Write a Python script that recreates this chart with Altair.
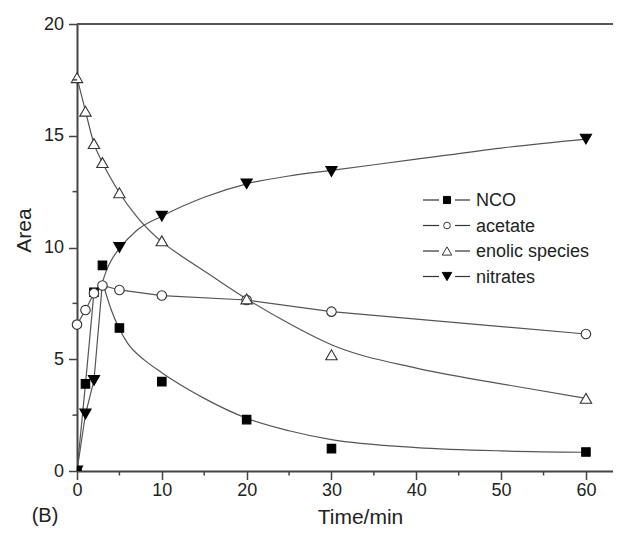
import altair as alt
import pandas as pd

# ---------------- data ----------------
series = ["NCO", "acetate", "enolic species", "nitrates"]
legend_labels = ["NCO", "acetate", "\u00a0enolic species", "nitrates"]
shapes = ["square", "circle", "triangle-up", "triangle-down"]
fills = ["#000000", "#ffffff", "#ffffff", "#000000"]
sizes = [72, 90, 130, 125]
legend_sizes = [50, 45, 90, 90]

# measured points
t_nco = [0, 1, 2, 3, 5, 10, 20, 30, 60]
v_nco = [0, 3.9, 8.0, 9.2, 6.4, 4.0, 2.3, 1.0, 0.85]
t_acetate = [0, 1, 2, 3, 5, 10, 20, 30, 60]
v_acetate = [6.55, 7.2, 7.95, 8.3, 8.1, 7.85, 7.65, 7.13, 6.13]
t_enolic = [0, 1, 2, 3, 5, 10, 20, 30, 60]
v_enolic = [17.6, 16.1, 14.65, 13.8, 12.45, 10.3, 7.7, 5.2, 3.25]
t_nitrates = [0, 1, 2, 5, 10, 20, 30, 60]
v_nitrates = [0, 2.55, 4.05, 10.0, 11.4, 12.85, 13.4, 14.85]

# straight connecting segments (initial rise)
t_nco_rise = [0, 1, 2, 3]
v_nco_rise = [0, 3.9, 8.0, 8.45]
t_nitr_rise = [0, 1, 2, 3]
v_nitr_rise = [0, 2.55, 4.05, 8.45]

# fitted curves
t_nco_fit = [3, 4, 5, 6, 8, 10, 12, 15, 20, 25, 30, 40, 50, 60]
v_nco_fit = [8.45, 7.25, 6.35, 5.7, 4.95, 4.4, 3.9, 3.25, 2.36, 1.8, 1.4, 1.05, 0.9, 0.84]
t_nitr_fit = [3, 3.5, 4, 5, 7, 10, 15, 20, 25, 30, 40, 50, 60]
v_nitr_fit = [8.45, 9.0, 9.4, 9.95, 10.75, 11.4, 12.25, 12.85, 13.2, 13.45, 13.95, 14.45, 14.85]
t_enol_fit = [0, 1, 2, 3, 5, 7, 10, 12, 15, 20, 25, 30, 40, 50, 60]
v_enol_fit = [17.6, 16.1, 14.65, 13.8, 12.45, 11.4, 10.25, 9.7, 8.95, 7.7, 6.6, 5.65, 4.6, 3.9, 3.25]

x_major = [0, 10, 20, 30, 40, 50, 60]
x_minor = [5, 15, 25, 35, 45, 55]
y_major = [0, 5, 10, 15, 20]
y_minor = [2.5, 7.5, 12.5, 17.5]

# ---------------- layout ----------------
W, H = 536, 447
X_MAX = 63.19
FONT = "Liberation Sans"
AX = "#444444"
LINE = "#555555"

pts = pd.concat([
    pd.DataFrame({"series": "NCO", "t": t_nco, "v": v_nco}),
    pd.DataFrame({"series": "acetate", "t": t_acetate, "v": v_acetate}),
    pd.DataFrame({"series": "enolic species", "t": t_enolic, "v": v_enolic}),
    pd.DataFrame({"series": "nitrates", "t": t_nitrates, "v": v_nitrates}),
], ignore_index=True)

lin = pd.concat([
    pd.DataFrame({"series": "NCO", "t": t_nco_rise, "v": v_nco_rise}),
    pd.DataFrame({"series": "nitrates", "t": t_nitr_rise, "v": v_nitr_rise}),
    pd.DataFrame({"series": "acetate", "t": t_acetate, "v": v_acetate}),
], ignore_index=True)

fit = pd.concat([
    pd.DataFrame({"series": "NCO", "t": t_nco_fit, "v": v_nco_fit}),
    pd.DataFrame({"series": "nitrates", "t": t_nitr_fit, "v": v_nitr_fit}),
    pd.DataFrame({"series": "enolic species", "t": t_enol_fit, "v": v_enol_fit}),
], ignore_index=True)

x_scale = alt.Scale(domain=[0, X_MAX], nice=False, zero=False)
y_scale = alt.Scale(domain=[0, 20], nice=False, zero=False)

x_enc = alt.X("t:Q", scale=x_scale, axis=alt.Axis(
    values=x_major, format="d", title="Time/min", grid=False,
    tickSize=8.5, tickWidth=1.5, tickColor=AX, domainColor=AX, domainWidth=2,
    labelFontSize=18, labelFont=FONT, labelColor="#222", labelPadding=2,
    labelFlush=False, labelOverlap=False,
    titleFontSize=21, titleFont=FONT, titleFontWeight="normal", titleColor="#222",
    titleX=283, titleY=52, titleBaseline="alphabetic", titleAlign="center"))
y_enc = alt.Y("v:Q", scale=y_scale, axis=alt.Axis(
    values=y_major, format="d", title="Area", grid=False,
    tickSize=8.5, tickWidth=1.5, tickColor=AX, domainColor=AX, domainWidth=2,
    labelFontSize=18, labelFont=FONT, labelColor="#222", labelPadding=5,
    labelOverlap=False, labelFlush=False,
    titleFontSize=21, titleFont=FONT, titleFontWeight="normal", titleColor="#222",
    titleAngle=270, titleX=-53, titleY=206, titleBaseline="middle", titleAlign="center"))

layers = []

# connecting lines
layers.append(alt.Chart(lin).mark_line(interpolate="linear", color=LINE, strokeWidth=1.2)
              .encode(x=x_enc, y=y_enc, detail="series:N", order="t:Q"))
layers.append(alt.Chart(fit).mark_line(interpolate="monotone", color=LINE, strokeWidth=1.2)
              .encode(x=x_enc, y=y_enc, detail="series:N", order="t:Q"))

# markers
for s, shp, f, sz in zip(series, shapes, fills, sizes):
    d = pts[pts["series"] == s]
    is_origin = (d["t"] == 0) & (d["v"] == 0)
    origin = d[is_origin]
    rest = d[~is_origin]
    stroke = "#000000" if f == "#000000" else "#333333"
    layers.append(alt.Chart(rest).mark_point(shape=shp, filled=True, fill=f, stroke=stroke,
                                             strokeWidth=1.1, size=sz, opacity=1)
                  .encode(x=x_enc, y=y_enc))
    if len(origin):
        layers.append(alt.Chart(origin).mark_point(shape=shp, filled=True, fill=f, stroke=stroke,
                                                   strokeWidth=1.1, size=sz, opacity=1, clip=True)
                      .encode(x=x_enc, y=y_enc))

# minor ticks
layers.append(alt.Chart(pd.DataFrame({"t": x_minor})).mark_rule(color=AX, strokeWidth=1.5)
              .encode(x=x_enc, y=alt.value(H), y2=alt.value(H + 4.5)))
layers.append(alt.Chart(pd.DataFrame({"v": y_minor})).mark_rule(color=AX, strokeWidth=1.5)
              .encode(y=y_enc, x=alt.value(-4.5), x2=alt.value(0)))

# top frame line
layers.append(alt.Chart(pd.DataFrame({"a": [0]})).mark_rule(color="#555555", strokeWidth=2)
              .encode(x=alt.value(0), x2=alt.value(W), y=alt.value(0)))

# legend
for i, (lab, shp, f, lsz) in enumerate(zip(legend_labels, shapes, fills, legend_sizes)):
    yy = 176 + 25.5 * i
    one = pd.DataFrame({"label": [lab]})
    stroke = "#000000" if f == "#000000" else "#333333"
    layers.append(alt.Chart(one).mark_rule(color="#333333", strokeWidth=1.2)
                  .encode(x=alt.value(346), x2=alt.value(362), y=alt.value(yy)))
    layers.append(alt.Chart(one).mark_rule(color="#333333", strokeWidth=1.2)
                  .encode(x=alt.value(378), x2=alt.value(393), y=alt.value(yy)))
    layers.append(alt.Chart(one).mark_point(shape=shp, filled=True, fill=f, stroke=stroke,
                                            strokeWidth=1, size=lsz, opacity=1)
                  .encode(x=alt.value(370), y=alt.value(yy)))
    layers.append(alt.Chart(one).mark_text(align="left", baseline="middle", font=FONT,
                                           fontSize=18, color="#222")
                  .encode(x=alt.value(399), y=alt.value(yy + 1), text="label:N"))

# panel label
layers.append(alt.Chart(pd.DataFrame({"label": ["(B)"]})).mark_text(
    align="center", baseline="alphabetic", font=FONT, fontSize=20, color="#222")
    .encode(x=alt.value(-32), y=alt.value(498), text="label:N"))

chart = alt.layer(*layers).properties(
    width=W, height=H,
    autosize=alt.AutoSizeParams(type="none"),
    padding={"left": 69, "top": 16, "right": 0, "bottom": 59},
    background="white",
).configure_view(stroke=None)

chart.save("out.html", embed_options={"renderer": "svg", "actions": False})
